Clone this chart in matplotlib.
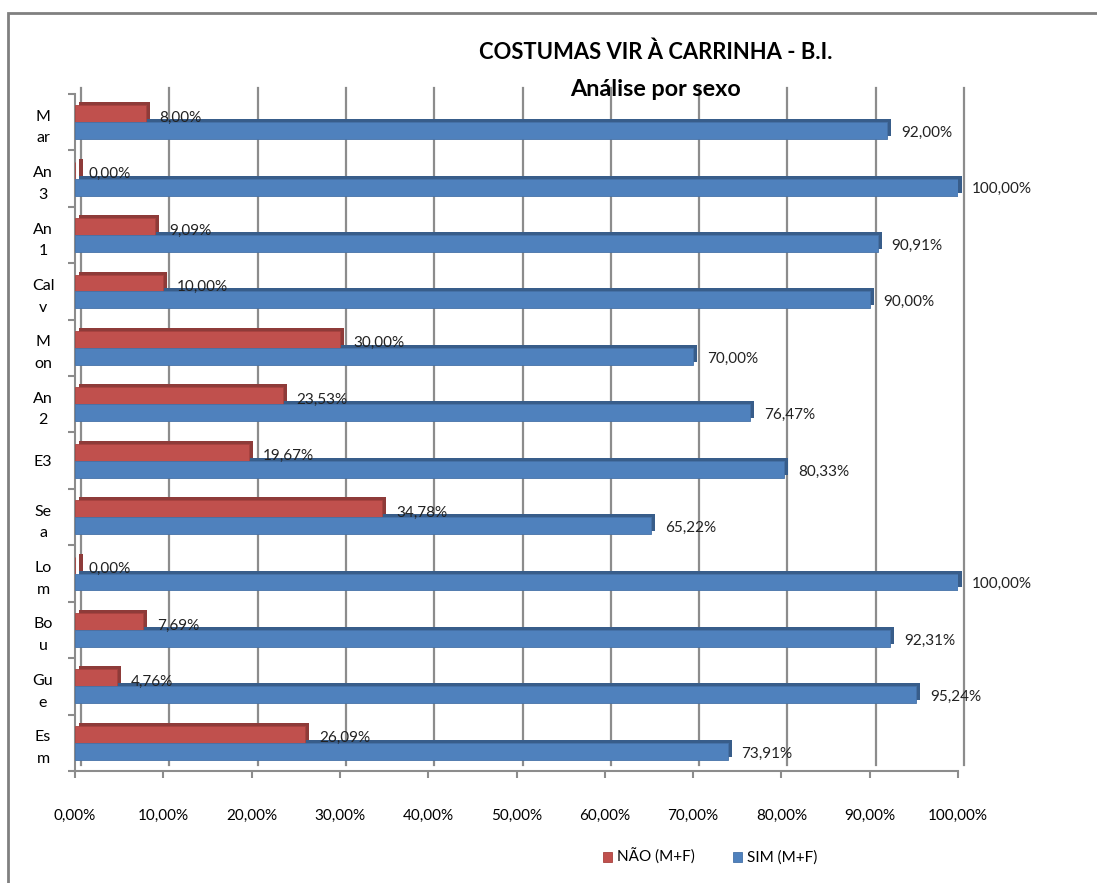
import matplotlib.pyplot as plt
import matplotlib.transforms as mtransforms
from matplotlib.patches import Rectangle
import numpy as np

plt.rcParams['font.family'] = ['Lato', 'DejaVu Sans']

# data (bottom to top, as in the chart)
categories = ["Es\nm", "Gu\ne", "Bo\nu", "Lo\nm", "Se\na", "E3",
              "An\n2", "M\non", "Cal\nv", "An\n1", "An\n3", "M\nar"]
nao = [26.09, 4.76, 7.69, 0.00, 34.78, 19.67, 23.53, 30.00, 10.00, 9.09, 0.00, 8.00]
sim = [73.91, 95.24, 92.31, 100.00, 65.22, 80.33, 76.47, 70.00, 90.00, 90.91, 100.00, 92.00]
xticks = np.arange(0, 101, 10)

red = '#C0504D'
blue = '#4F81BD'
grid_col = '#8C8C8C'

fig = plt.figure(figsize=(10.97, 8.83), dpi=100)
ax = fig.add_axes([75/1097, 1 - 771/883, 883/1097, 677/883])

y = np.arange(len(categories))
h = 0.30

# back-wall gridlines, shifted a little for the 3D look
shift = mtransforms.offset_copy(ax.transData, fig=fig, x=6, y=6, units='dots')
for t in xticks:
    ax.plot([t, t], [-0.5, len(categories) - 0.5], color=grid_col, lw=1.6,
            transform=shift, zorder=0, clip_on=False)

# depth faces of the bars
depth = mtransforms.offset_copy(ax.transData, fig=fig, x=4, y=3, units='dots')
back_r = ax.barh(y + h / 2, nao, height=h, color='#8E3B39', zorder=2)
back_b = ax.barh(y - h / 2, sim, height=h, color='#385D8A', zorder=2)
for p in list(back_r) + list(back_b):
    p.set_transform(depth)
    p.set_clip_on(False)
for p in back_r:
    if p.get_width() == 0:
        p.set_width(0.4)

ax.barh(y + h / 2, nao, height=h, color=red, edgecolor='#A8423F', lw=0.6,
        label='NÃO (M+F)', zorder=3)
ax.barh(y - h / 2, sim, height=h, color=blue, edgecolor='#4672A8', lw=0.6,
        label='SIM (M+F)', zorder=3)

for yi, v in zip(y, nao):
    ax.annotate(f"{v:.2f}%".replace('.', ','), (v, yi + h / 2 - 0.07),
                xytext=(10, 0), textcoords='offset points', ha='left', va='center',
                fontsize=11, color='#222222', zorder=5)
for yi, v in zip(y, sim):
    ax.annotate(f"{v:.2f}%".replace('.', ','), (v, yi - h / 2 - 0.04),
                xytext=(10, 0), textcoords='offset points', ha='left', va='center',
                fontsize=11, color='#222222', zorder=5)

ax.set_xlim(0, 100)
ax.set_ylim(-0.5, len(categories) - 0.5)
ax.set_xticks(xticks)
ax.set_xticklabels([f"{t:.2f}%".replace('.', ',') for t in xticks], fontsize=11)
ax.set_yticks(y)
ax.set_yticklabels(categories, fontsize=11.5, linespacing=1.7, ha='center')
ax.tick_params(axis='y', length=0, pad=23)
ax.tick_params(axis='x', length=5, color=grid_col, width=1.5, pad=22)
ax.set_yticks(np.arange(-0.5, len(categories), 1), minor=True)
ax.tick_params(axis='y', which='minor', length=5, color=grid_col, width=1.5)

for s in ['top', 'right']:
    ax.spines[s].set_visible(False)
for s in ['left', 'bottom']:
    ax.spines[s].set_color(grid_col)
    ax.spines[s].set_linewidth(1.5)

fig.text(656/1097, 1 - 52/883, "COSTUMAS VIR À CARRINHA - B.I.", ha='center', va='center',
         fontsize=15.8, fontweight='bold')
fig.text(656/1097, 1 - 90/883, "Análise por sexo", ha='center', va='center',
         fontsize=16.8, fontweight='bold')

fig.legend(loc='center', bbox_to_anchor=(710/1097, 1 - 857/883), ncol=2, frameon=False,
           fontsize=11, handlelength=0.6, handleheight=0.6, columnspacing=2.5,
           handletextpad=0.3)

fig.patches.append(Rectangle((8/1097, -0.1), 1.2, 1 - 13/883 + 0.1, transform=fig.transFigure,
                             fill=False, edgecolor='#808080', lw=2))

fig.savefig('out.png', dpi=100)
